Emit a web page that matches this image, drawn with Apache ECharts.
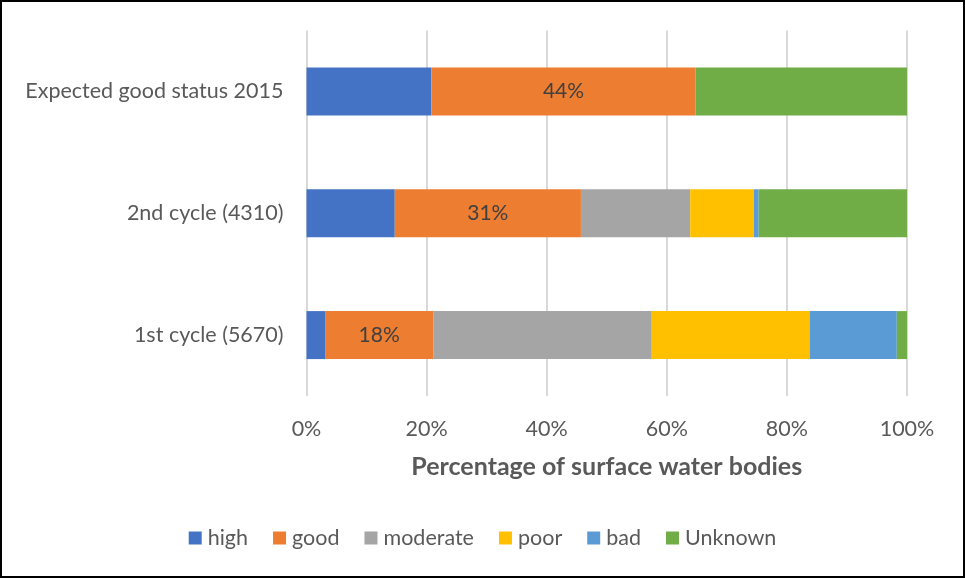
<!DOCTYPE html>
<html>
<head>
<meta charset="utf-8">
<script src="https://cdn.jsdelivr.net/npm/echarts@6/dist/echarts.min.js"></script>
<style>
  html, body { margin: 0; padding: 0; background: #fff; }
  #chart { width: 965px; height: 578px; box-sizing: border-box; border: 2px solid #000; }
</style>
</head>
<body>
<div id="chart"></div>
<script>
// Rows from bottom to top of the category axis
const categories = ['1st cycle (5670)', '2nd cycle (4310)', 'Expected good status 2015'];

// Share of surface water bodies per status class (%)
const high     = [3.1, 14.7, 20.8];
const good     = [18, 31, 44];
const moderate = [36.4, 18.2, 0];
const poor     = [26.3, 10.6, 0];
const bad      = [14.5, 0.8, 0];
const unknown  = [1.7, 24.7, 35.2];

const xTicks = [0, 20, 40, 60, 80, 100];

const statusSeries = [
  { name: 'high',     data: high,     color: '#4472C4' },
  { name: 'good',     data: good,     color: '#ED7D31', label: true },
  { name: 'moderate', data: moderate, color: '#A5A5A5' },
  { name: 'poor',     data: poor,     color: '#FFC000' },
  { name: 'bad',      data: bad,      color: '#5B9BD5' },
  { name: 'Unknown',  data: unknown,  color: '#70AD47' }
];

const FONT = 'Lato';
const TEXT = '#595959';
const SIZE = 21.5;

const chart = echarts.init(document.getElementById('chart'), null, { renderer: 'canvas' });

chart.setOption({
  animation: false,
  textStyle: { fontFamily: FONT },
  grid: { left: 304.5, right: 56, top: 28.5, bottom: 180, containLabel: false },
  legend: {
    bottom: 22,
    left: 'center',
    itemWidth: 13,
    itemHeight: 13,
    itemGap: 25,
    icon: 'rect',
    textStyle: { fontFamily: FONT, fontSize: SIZE, color: TEXT, padding: [0, 0, 0, 1] },
    data: statusSeries.map(s => s.name)
  },
  xAxis: {
    type: 'value',
    min: 0,
    max: 100,
    interval: 20,
    name: 'Percentage of surface water bodies',
    nameLocation: 'middle',
    nameGap: 58,
    nameTextStyle: { fontFamily: FONT, fontSize: 25, fontWeight: 'bold', color: TEXT },
    axisLine: { show: false },
    axisTick: { show: false },
    axisLabel: {
      fontFamily: FONT, fontSize: SIZE, color: TEXT, margin: 22,
      formatter: v => (xTicks.includes(v) ? v + '%' : '')
    },
    splitLine: { show: true, lineStyle: { color: '#D9D9D9', width: 2 } }
  },
  yAxis: {
    type: 'category',
    data: categories,
    axisLine: { show: false },
    axisTick: { show: false },
    axisLabel: { fontFamily: FONT, fontSize: SIZE, color: TEXT, margin: 23 }
  },
  series: statusSeries.map(s => ({
    name: s.name,
    type: 'bar',
    stack: 'total',
    barWidth: 48,
    data: s.data,
    itemStyle: { color: s.color },
    label: s.label ? {
      show: true,
      position: 'inside',
      fontFamily: FONT,
      fontSize: 21,
      color: '#404040',
      formatter: p => Math.round(p.value) + '%'
    } : { show: false }
  }))
});
</script>
</body>
</html>
